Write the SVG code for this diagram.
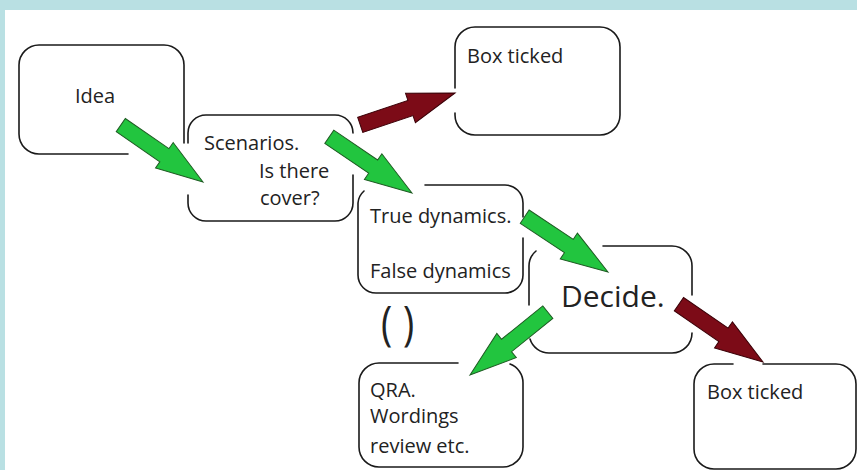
<svg xmlns="http://www.w3.org/2000/svg" xmlns:xlink="http://www.w3.org/1999/xlink" width="857" height="470" viewBox="0 0 857 470">
<style>
.box{fill:none;stroke:#1a1a1a;stroke-width:1.6;stroke-linecap:round}
.t{font-family:"Open Sans","Noto Sans","Liberation Sans",sans-serif;font-size:20px;fill:#222}
.big{font-size:30px}
.par{font-size:40px}
.g{fill:#22c53f;stroke:#1e5a22;stroke-width:1}
.r{fill:#7c0b17;stroke:#3a0007;stroke-width:1}
</style>
<defs>
<path id="arr" d="M0,0 L-47,15.5 L-47,8 L-100,8 L-100,-8 L-47,-8 L-47,-15.5 Z"/>
</defs>
<rect x="0" y="0" width="857" height="470" fill="#ffffff"/>
<rect x="0" y="0" width="857" height="10" fill="#b9e0e3"/>
<rect x="0" y="0" width="5" height="470" fill="#b9e0e3"/>

<g id="idea">
<path class="box" d="M128,154 H39 A20,20 0 0 1 19,134 V65 A20,20 0 0 1 39,45 H164 A20,20 0 0 1 184,65 V143"/>
<text class="t" x="75" y="103">Idea</text>
</g>

<g id="scenarios">
<path class="box" d="M188,143 V133 A18,18 0 0 1 206,115 H335 A18,18 0 0 1 353,133"/>
<path class="box" d="M353,175 V203 A18,18 0 0 1 335,221 H206 A18,18 0 0 1 188,203 V195"/>
<text class="t" x="204" y="150">Scenarios.</text>
<text class="t" x="259" y="178">Is there</text>
<text class="t" x="260" y="205">cover?</text>
</g>

<g id="box-ticked-top">
<path class="box" d="M455,88 V47 A20,20 0 0 1 475,27 H600 A20,20 0 0 1 620,47 V115 A20,20 0 0 1 600,135 H475 A20,20 0 0 1 455,115 V113"/>
<text class="t" x="467" y="63">Box ticked</text>
</g>

<g id="dynamics">
<path class="box" d="M425,185 H505 A18,18 0 0 1 523,203 V217"/>
<path class="box" d="M523,238 V275 A18,18 0 0 1 505,293 H376 A18,18 0 0 1 358,275 V203 A18,18 0 0 1 364,191"/>
<text class="t" x="370" y="223">True dynamics.</text>
<text class="t" x="370" y="278">False dynamics</text>
</g>

<g id="parens">
<text class="t par" transform="translate(381,340) scale(0.95,1.2)" x="0" y="0">(</text>
<text class="t par" transform="translate(403,340) scale(0.95,1.2)" x="0" y="0">)</text>
</g>

<g id="decide">
<path class="box" d="M603,246 H672 A20,20 0 0 1 692,266 V295"/>
<path class="box" d="M692,333 A20,20 0 0 1 672,353 H549 A20,20 0 0 1 530,339"/>
<path class="box" d="M529,305 V266 A20,20 0 0 1 536,251"/>
<text class="t big" x="561" y="307">Decide.</text>
</g>

<g id="qra">
<path class="box" d="M458,363 H379 A20,20 0 0 0 359,383 V447 A20,20 0 0 0 379,467 H503 A20,20 0 0 0 523,447 V383 A20,20 0 0 0 510,364"/>
<text class="t" x="370" y="397">QRA.</text>
<text class="t" x="370" y="423">Wordings</text>
<text class="t" x="370" y="453">review etc.</text>
</g>

<g id="box-ticked-bottom">
<path class="box" d="M733,364 H714 A20,20 0 0 0 694,384 V449 A20,20 0 0 0 714,469 H836 A20,20 0 0 0 856,449 V384 A20,20 0 0 0 836,364 H763"/>
<text class="t" x="707" y="399">Box ticked</text>
</g>

<g id="connectors">
<use xlink:href="#arr" href="#arr" class="g" transform="translate(203,182) rotate(34.7)"/>
<use xlink:href="#arr" href="#arr" class="g" transform="translate(412,193) rotate(34.2)"/>
<use xlink:href="#arr" href="#arr" class="g" transform="translate(608,272) rotate(33.6)"/>
<use xlink:href="#arr" href="#arr" class="g" transform="translate(470,375) rotate(141.1)"/>
<use xlink:href="#arr" href="#arr" class="r" transform="translate(763,362) rotate(34.5) scale(1.02)"/>
<use xlink:href="#arr" href="#arr" class="r" transform="translate(455,93) rotate(-18.6)"/>
</g>
</svg>
